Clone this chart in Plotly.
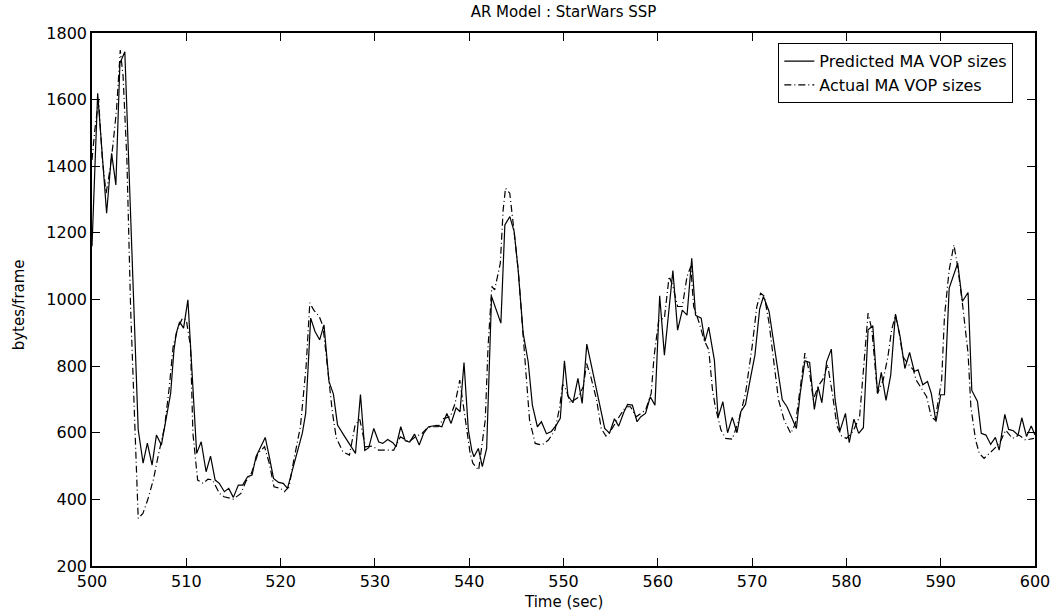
import plotly.graph_objects as go

# Predicted MA VOP sizes (solid)
pred_t = [500.0, 500.6, 501.55, 502.08, 502.53, 502.96, 503.48, 504.9, 505.42, 505.87,
          506.37, 506.83, 507.36, 507.88, 508.34, 508.69, 508.94, 509.29, 509.71, 510.17,
          511.1, 511.58, 512.1, 512.57, 513.06, 513.5, 514.04, 514.5, 514.99, 515.52,
          515.98, 516.5, 516.97, 517.39, 517.92, 518.37, 518.8, 519.25, 519.78, 520.28,
          520.73, 521.26, 521.78, 522.3, 522.66, 523.19, 523.65, 524.14, 524.6, 525.13,
          525.6, 526.04, 526.7, 527.3, 527.94, 528.47, 528.93, 529.35, 529.88, 530.41,
          530.83, 531.36, 531.9, 532.24, 532.74, 533.22, 533.69, 534.2, 534.7, 535.16,
          535.69, 536.57, 537.1, 537.63, 538.08, 538.61, 539.03, 539.45, 539.91, 540.27,
          540.5, 540.97, 541.39, 541.85, 542.37, 543.36, 543.78, 544.31, 544.77, 545.19,
          545.72, 546.25, 546.7, 547.23, 547.66, 548.19, 548.71, 549.24, 549.66, 550.1,
          550.47, 551.0, 551.53, 551.98, 552.47, 552.95, 553.48, 553.9, 554.37, 554.88,
          555.4, 555.85, 556.42, 556.8, 557.3, 557.8, 558.2, 558.7, 559.2, 559.7,
          560.2, 560.7, 561.6, 562.1, 562.6, 563.1, 563.6, 564.0, 564.6, 565.0,
          565.4, 566.0, 566.4, 566.9, 567.4, 567.9, 568.4, 568.8, 569.3, 569.8,
          570.3, 570.8, 571.2, 571.8, 572.3, 572.8, 573.2, 573.7, 574.2, 574.7,
          575.1, 575.6, 576.1, 576.6, 577.0, 577.4, 577.9, 578.4, 578.8, 579.3,
          579.9, 580.3, 580.8, 581.3, 581.8, 582.3, 582.8, 583.3, 583.7, 584.2,
          584.7, 585.2, 585.7, 586.2, 586.7, 587.2, 587.6, 588.1, 588.6, 589.0,
          589.5, 590.0, 590.4, 590.9, 591.8, 592.3, 592.9, 593.3, 593.9, 594.3,
          594.8, 595.3, 595.8, 596.2, 596.8, 597.2, 597.7, 598.2, 598.6, 599.1,
          599.6, 600.0]
pred_v = [1160, 1619, 1259, 1439, 1344, 1709, 1744, 609, 509, 569,
          503, 593, 563, 648, 718, 848, 899, 933, 914, 999,
          538, 573, 483, 530, 458, 448, 423, 433, 406, 443,
          443, 468, 473, 528, 558, 586, 528, 463, 451, 448,
          433, 488, 538, 598, 658, 944, 904, 879, 924, 754,
          716, 623, 593, 568, 538, 715, 547, 555, 613, 572,
          568, 580, 570, 558, 618, 576, 572, 596, 563, 598,
          618, 622, 618, 658, 628, 675, 663, 811, 608, 548,
          528, 553, 498, 553, 1009, 929, 1224, 1249, 1204, 1089,
          899, 814, 683, 618, 633, 597, 604, 623, 643, 816,
          711, 690, 763, 688, 866, 803, 733, 683, 613, 599,
          642, 620, 663, 685, 683, 633, 648, 658, 708, 683,
          1011, 833, 1087, 908, 968, 953, 1124, 953, 944, 874,
          917, 818, 646, 693, 600, 646, 600, 663, 685, 760,
          833, 971, 1009, 964, 869, 789, 699, 678, 646, 613,
          718, 816, 811, 670, 738, 690, 813, 851, 700, 604,
          658, 570, 641, 598, 615, 909, 921, 718, 781, 697,
          773, 956, 888, 793, 841, 784, 789, 744, 754, 718,
          633, 714, 714, 1034, 1109, 994, 1021, 727, 694, 598,
          593, 565, 586, 548, 655, 610, 606, 593, 645, 589,
          620, 593]

# Actual MA VOP sizes (dash-dot)
act_t = [500.0, 500.3, 500.7, 501.1, 501.5, 501.9, 502.2, 502.6, 503.0, 503.3,
         503.7, 504.1, 504.9, 505.4, 505.9, 506.5, 507.0, 507.7, 508.2, 508.6,
         509.1, 509.6, 510.0, 510.45, 510.7, 511.2, 511.8, 512.3, 512.8, 513.5,
         514.0, 515.0, 515.8, 516.3, 516.9, 517.6, 518.3, 518.8, 519.3, 520.0,
         520.4, 520.9, 521.4, 522.1, 522.7, 523.1, 523.5, 524.1, 524.5, 525.0,
         525.5, 525.9, 526.6, 527.3, 527.9, 528.4, 529.0, 529.7, 530.4, 531.3,
         532.0, 532.7, 533.6, 534.3, 535.0, 535.5, 536.0, 536.7, 537.3, 538.0,
         538.5, 539.0, 539.7, 540.1, 540.4, 541.0, 541.7, 542.0, 542.4, 542.7,
         543.3, 543.6, 543.85, 544.3, 544.7, 545.2, 545.7, 546.1, 546.4, 547.0,
         547.7, 548.4, 549.1, 549.6, 549.9, 550.3, 550.7, 551.5, 552.1, 552.45,
         552.9, 553.5, 554.0, 554.5, 555.1, 555.9, 556.6, 557.1, 557.7, 558.7,
         559.3, 559.6, 560.1, 560.7, 561.2, 561.6, 562.1, 562.6, 563.1, 563.5,
         563.8, 564.4, 564.9, 565.4, 565.8, 566.1, 566.7, 567.2, 567.9, 568.6,
         569.3, 570.0, 570.5, 570.9, 571.3, 571.8, 572.3, 572.8, 573.4, 574.1,
         574.6, 575.1, 575.6, 576.1, 576.5, 577.0, 577.5, 578.0, 578.5, 579.0,
         579.5, 580.0, 580.7, 581.4, 581.8, 582.3, 582.7, 583.0, 583.3, 583.9,
         584.4, 584.8, 585.2, 585.6, 586.0, 586.5, 587.1, 587.4, 588.0, 588.5,
         589.0, 589.4, 590.1, 590.4, 590.9, 591.4, 591.8, 592.3, 592.9, 593.2,
         593.7, 594.1, 594.6, 595.2, 595.9, 596.4, 596.9, 597.6, 598.3, 599.0,
         599.9]
act_v = [1419, 1509, 1599, 1419, 1319, 1389, 1459, 1569, 1749, 1669,
         1419, 969, 343, 358, 398, 458, 528, 618, 738, 858,
         914, 944, 939, 858, 599, 458, 448, 461, 458, 418,
         408, 401, 418, 453, 478, 538, 558, 508, 438, 433,
         423, 438, 518, 618, 798, 990, 969, 949, 919, 780,
         660, 585, 543, 533, 623, 640, 558, 560, 548, 548,
         548, 588, 573, 588, 598, 613, 618, 618, 643, 648,
         688, 758, 618, 538, 508, 488, 638, 858, 1039, 1029,
         1109, 1269, 1334, 1319, 1219, 1089, 899, 738, 638, 568,
         563, 578, 608, 678, 745, 728, 690, 705, 738, 808,
         768, 700, 613, 590, 610, 648, 678, 678, 648, 668,
         718, 828, 939, 944, 1069, 1040, 979, 979, 1069, 1099,
         979, 929, 879, 849, 729, 678, 608, 583, 581, 638,
         718, 858, 979, 1019, 1010, 929, 808, 699, 638, 598,
         628, 729, 839, 779, 699, 740, 760, 805, 720, 620,
         590, 583, 604, 648, 798, 959, 909, 819, 718, 758,
         828, 909, 954, 899, 828, 808, 789, 758, 729, 709,
         648, 638, 758, 949, 1089, 1164, 1099, 989, 839, 678,
         578, 538, 523, 538, 558, 578, 608, 583, 593, 578,
         583]

x_ticks = list(range(500, 601, 10))
y_ticks = list(range(200, 1801, 200))

FONT = "DejaVu Sans"

fig = go.Figure()
fig.add_trace(go.Scatter(x=pred_t, y=pred_v, mode="lines",
                         name="Predicted MA VOP sizes",
                         line=dict(color="black", width=1.2)))
fig.add_trace(go.Scatter(x=act_t, y=act_v, mode="lines",
                         name="Actual MA VOP sizes",
                         line=dict(color="black", width=1.2, dash="7px,3px,1px,3px")))

axis_common = dict(showgrid=False, zeroline=False, showline=True, linecolor="black",
                   linewidth=1.5, mirror="ticks", ticks="inside", ticklen=8,
                   tickwidth=1, tickcolor="black",
                   tickfont=dict(family=FONT, size=16, color="black"))

fig.update_xaxes(range=[500, 600], tickvals=x_ticks, ticktext=[str(v) for v in x_ticks],
                 **axis_common)
fig.update_yaxes(range=[200, 1800], tickvals=y_ticks, ticktext=[str(v) for v in y_ticks],
                 **axis_common)

fig.update_layout(
    width=1062, height=611,
    margin=dict(l=92, r=23, t=33, b=45),
    plot_bgcolor="white", paper_bgcolor="white",
    title=dict(text="AR Model : StarWars SSP", x=0.5, xref="paper",
               y=1 - 12 / 611, yref="container", yanchor="middle",
               font=dict(family=FONT, size=15, color="black")),
    legend=dict(x=0.977, y=0.981, xanchor="right", yanchor="top",
                bgcolor="white", bordercolor="black", borderwidth=1,
                font=dict(family=FONT, size=16, color="black"),
                tracegroupgap=0, itemwidth=30),
    showlegend=True,
    annotations=[
        dict(text="Time (sec)", xref="paper", yref="paper", x=0.5, y=-(591 - 566) / 533,
             xanchor="center", yanchor="top", showarrow=False,
             font=dict(family=FONT, size=15, color="black")),
        dict(text="bytes/frame", xref="paper", yref="paper", x=-0.078, y=0.49,
             xanchor="center", yanchor="middle", textangle=-90, showarrow=False,
             font=dict(family=FONT, size=15, color="black")),
    ],
)

fig.write_html("out.html")
